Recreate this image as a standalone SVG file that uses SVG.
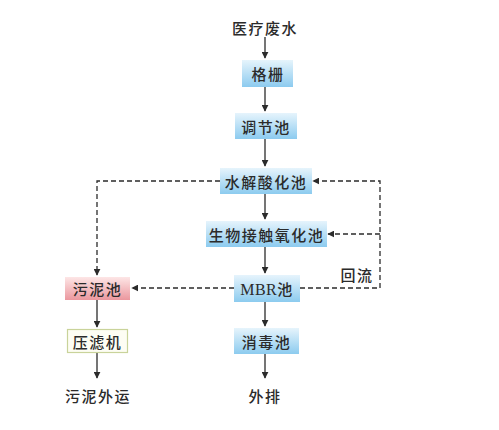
<svg xmlns="http://www.w3.org/2000/svg" width="499" height="430" viewBox="0 0 499 430">
<style>
.t{font-family:"Noto Sans CJK SC","Noto Sans",sans-serif;font-size:15px;font-weight:500;fill:#2b2b2b;text-anchor:middle;dominant-baseline:central;letter-spacing:1.5px}
.box{fill:url(#blue)}
.ln{stroke:#2b2b2b;stroke-width:1.3;fill:none}
.ds{stroke:#2b2b2b;stroke-width:1.3;fill:none;stroke-dasharray:5 3}
</style>
<defs>
<linearGradient id="blue" x1="0" y1="0" x2="0" y2="1">
<stop offset="0" stop-color="#e6f4fc"/>
<stop offset="1" stop-color="#8ccbef"/>
</linearGradient>
<linearGradient id="pink" x1="0" y1="0" x2="0" y2="1">
<stop offset="0" stop-color="#fde6e6"/>
<stop offset="1" stop-color="#eb979e"/>
</linearGradient>
<marker id="ah" viewBox="0 0 10 10" refX="9" refY="5" markerWidth="7" markerHeight="7" markerUnits="userSpaceOnUse" orient="auto">
<path d="M0,0 L10,5 L0,10 z" fill="#2b2b2b"/>
</marker>
</defs>
<rect width="499" height="430" fill="#ffffff"/>
<g id="connectors">
<line class="ln" x1="265" y1="37" x2="265" y2="58" marker-end="url(#ah)"/>
<line class="ln" x1="265" y1="87" x2="265" y2="111" marker-end="url(#ah)"/>
<line class="ln" x1="265" y1="139" x2="265" y2="166" marker-end="url(#ah)"/>
<line class="ln" x1="265" y1="194" x2="265" y2="219" marker-end="url(#ah)"/>
<line class="ln" x1="265" y1="247" x2="265" y2="273" marker-end="url(#ah)"/>
<line class="ln" x1="265" y1="302" x2="265" y2="326" marker-end="url(#ah)"/>
<line class="ln" x1="265" y1="354" x2="265" y2="378" marker-end="url(#ah)"/>
<line class="ln" x1="97" y1="300" x2="97" y2="327" marker-end="url(#ah)"/>
<line class="ln" x1="97" y1="352" x2="97" y2="378" marker-end="url(#ah)"/>
<path class="ds" d="M220,181 H97 V275" marker-end="url(#ah)"/>
<path class="ds" d="M234,288 H132" marker-end="url(#ah)"/>
<path class="ds" d="M300,288 H380 V181 H313" marker-end="url(#ah)"/>
<path class="ds" d="M380,234 H328" marker-end="url(#ah)"/>
</g>
<g id="source"><text class="t" x="265" y="27">医疗废水</text></g>
<g id="n1"><rect class="box" x="242" y="60" width="51" height="27"/><text class="t" x="268" y="73.5">格栅</text></g>
<g id="n2"><rect class="box" x="235" y="113" width="62" height="26"/><text class="t" x="266" y="126">调节池</text></g>
<g id="n3"><rect class="box" x="220" y="168" width="92" height="26"/><text class="t" x="266" y="181">水解酸化池</text></g>
<g id="n4"><rect class="box" x="206" y="221" width="121" height="26"/><text class="t" x="266.5" y="234">生物接触氧化池</text></g>
<g id="n5"><rect class="box" x="234" y="275" width="66" height="27"/><text class="t" x="267" y="288.5"><tspan font-family="Liberation Serif" font-size="16px" font-weight="normal" letter-spacing="0.5px">MBR</tspan>池</text></g>
<g id="n6"><rect class="box" x="234" y="328" width="65" height="26"/><text class="t" x="266.5" y="341">消毒池</text></g>
<g id="n7"><rect x="65" y="277" width="65" height="23" fill="url(#pink)"/><text class="t" x="97.5" y="288.5">污泥池</text></g>
<g id="n8"><rect x="67.5" y="329.5" width="60" height="23" fill="#fdfdf4" stroke="#c9d39a" stroke-width="1.2"/><text class="t" x="97.5" y="341">压滤机</text></g>
<g id="out1"><text class="t" x="98" y="395">污泥外运</text></g>
<g id="out2"><text class="t" x="265" y="395">外排</text></g>
<g id="label"><text class="t" x="357" y="274">回流</text></g>
</svg>
